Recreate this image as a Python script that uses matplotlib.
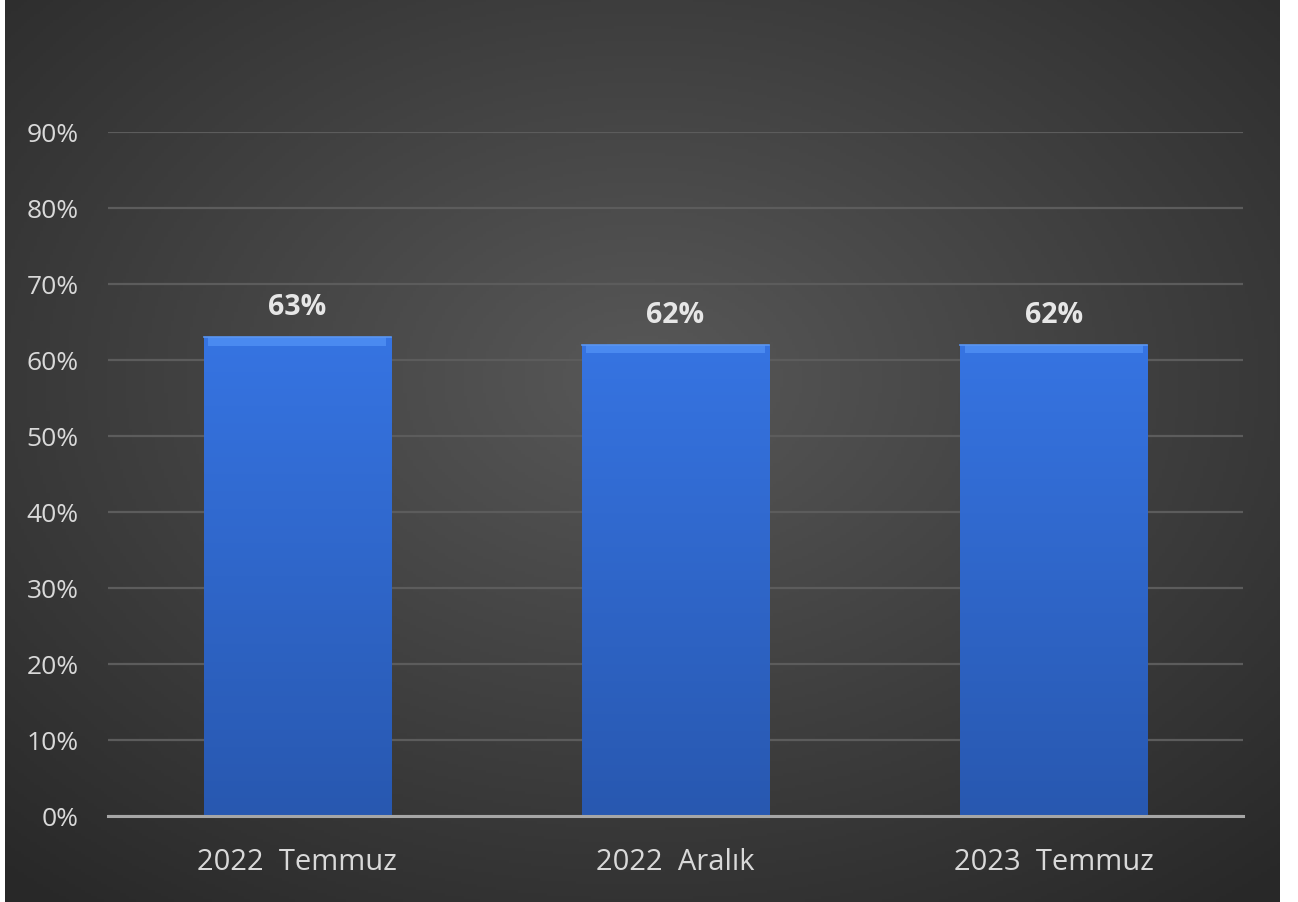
import numpy as np
import matplotlib
matplotlib.use("Agg")
import matplotlib.pyplot as plt
from matplotlib.ticker import PercentFormatter

categories = ["2022  Temmuz", "2022  Aralık", "2023  Temmuz"]
values = [0.63, 0.62, 0.62]
labels = ["63%", "62%", "62%"]

plt.rcParams["font.family"] = ["Open Sans", "DejaVu Sans"]

fig = plt.figure(figsize=(12.98, 9.03), dpi=100)
fig.patch.set_facecolor("white")

# dark radial background panel
bg = fig.add_axes([5 / 1298, 0.0, 1275 / 1298, 1.0])
bg.set_axis_off()
yy, xx = np.mgrid[0:1:300j, 0:1:400j]
r = np.sqrt(((xx - 0.5) / 0.75) ** 2 + ((yy - 0.42) / 0.75) ** 2)
shade = np.clip(1 - r, 0, 1)
lo = np.array([0x28, 0x28, 0x28]) / 255
hi = np.array([0x58, 0x58, 0x58]) / 255
img = lo + (hi - lo) * shade[..., None]
bg.imshow(img, extent=[0, 1, 0, 1], aspect="auto", origin="upper")

ax = fig.add_axes([108 / 1298, 86 / 903, 1135 / 1298, 684 / 903])
ax.set_facecolor("none")
x = np.arange(len(categories))
bars = ax.bar(x, values, width=0.495, color="#3068d4", zorder=3)

# vertical gradient + lighter bevel on top of each bar
grad = np.linspace(0, 1, 256)[:, None]
top_c = np.array([0x36, 0x74, 0xe2]) / 255
bot_c = np.array([0x28, 0x58, 0xb0]) / 255
gimg = top_c + (bot_c - top_c) * grad[..., None]
gimg = np.repeat(gimg, 8, axis=1)
for b in bars:
    x0, w, h = b.get_x(), b.get_width(), b.get_height()
    im = ax.imshow(gimg, extent=[x0, x0 + w, 0, h], aspect="auto", zorder=4, origin="upper")
    im.set_clip_path(b)
    ax.fill_between([x0 + 0.012, x0 + w - 0.012], h - 0.011, h, color="#4a8af0", zorder=5, lw=0)
    ax.plot([x0, x0 + w], [h, h], color="#5a96f2", lw=1.2, zorder=6)

for xi, v, lab in zip(x, values, labels):
    ax.text(xi, v + 0.040, lab, ha="center", va="center", fontsize=20.5,
            fontweight="bold", color="#e6e6e6")

ax.set_xlim(-0.5, 2.5)
ax.set_ylim(0, 0.9)
ax.set_yticks(np.arange(0, 0.91, 0.1))
ax.yaxis.set_major_formatter(PercentFormatter(1.0, decimals=0))
ax.set_xticks(x)
ax.set_xticklabels(categories)
ax.tick_params(axis="both", length=0, colors="#d9d9d9")
ax.tick_params(axis="y", pad=21, labelsize=19)
ax.tick_params(axis="x", pad=22, labelsize=21)
ax.grid(axis="y", color="#5c5c5c", lw=1.6, zorder=1)
for s in ["top", "right", "left"]:
    ax.spines[s].set_visible(False)
ax.spines["bottom"].set_color("#a6a6a6")
ax.spines["bottom"].set_linewidth(2.2)
ax.spines["bottom"].set_zorder(7)

fig.savefig("out.png", dpi=100, facecolor=fig.get_facecolor())
